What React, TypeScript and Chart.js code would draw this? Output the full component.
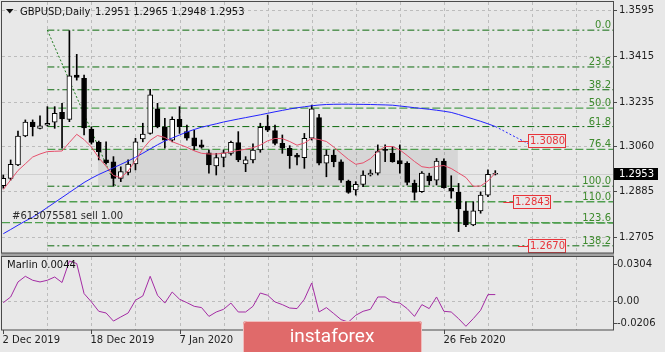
import React, { useEffect, useRef } from "react";
import Chart from "chart.js/auto";

// ---------- data ----------
const symbolTitle = "GBPUSD,Daily";
const opens = [1.2906,1.2935,1.2987,1.3101,1.3155,1.3131,1.3143,1.3155,1.3194,1.3166,
1.3340,1.3327,1.3128,1.3076,1.3007,1.3000,1.2935,1.2958,1.2991,1.3089,
1.3111,1.3207,1.3137,1.3085,1.3166,1.3118,1.3094,1.3066,1.3035,1.2984,
1.3017,1.3033,1.3075,1.2991,1.3007,1.3046,1.3140,1.3122,1.3072,1.3053,
1.3026,1.3016,1.3092,1.3173,1.2994,1.3026,1.3000,1.2924,1.2889,1.2911,
1.2948,1.2955,1.3049,1.3033,1.3004,1.2994,1.2915,1.2883,1.2945,1.2928,
1.3003,1.2896,1.2880,1.2807,1.2752,1.2807,1.2869,1.2951];
const highs = [1.2948,1.3007,1.3120,1.3164,1.3164,1.3180,1.3216,1.3216,1.3229,1.3514,
1.3421,1.3340,1.3137,1.3081,1.3078,1.3020,1.2980,1.3007,1.3092,1.3151,
1.3284,1.3229,1.3170,1.3176,1.3216,1.3144,1.3124,1.3085,1.3046,1.3033,
1.3046,1.3081,1.3118,1.3020,1.3070,1.3151,1.3183,1.3144,1.3105,1.3063,
1.3033,1.3111,1.3222,1.3186,1.3046,1.3046,1.3007,1.2928,1.2922,1.2964,
1.2968,1.3066,1.3066,1.3059,1.3066,1.3000,1.2928,1.2961,1.2955,1.3013,
1.3011,1.2945,1.2915,1.2843,1.2843,1.2882,1.2968,1.2965];
const lows = [1.2896,1.2928,1.2985,1.3098,1.3101,1.3129,1.3140,1.3131,1.3053,1.3157,
1.3320,1.3105,1.3069,1.3007,1.2990,1.2905,1.2922,1.2948,1.2968,1.3078,
1.3108,1.3133,1.3053,1.3078,1.3111,1.3085,1.3046,1.3053,1.2955,1.2948,
1.2980,1.3026,1.3000,1.2961,1.2995,1.3037,1.3118,1.3066,1.3033,1.2974,
1.2987,1.2974,1.3085,1.2987,1.2941,1.2980,1.2919,1.2876,1.2869,1.2902,
1.2944,1.2948,1.3000,1.2998,1.2955,1.2909,1.2850,1.2880,1.2909,1.2909,
1.2896,1.2857,1.2726,1.2745,1.2749,1.2798,1.2863,1.2948];
const closes = [1.2935,1.2990,1.3101,1.3155,1.3137,1.3141,1.3151,1.3190,1.3168,1.3337,
1.3331,1.3133,1.3076,1.3039,1.2996,1.2935,1.2961,1.2991,1.3078,1.3108,
1.3262,1.3137,1.3085,1.3166,1.3137,1.3092,1.3062,1.3057,1.2987,1.3016,
1.3035,1.3076,1.3007,1.3007,1.3046,1.3135,1.3124,1.3072,1.3053,1.3024,
1.3018,1.3092,1.3207,1.2994,1.3026,1.3000,1.2928,1.2880,1.2911,1.2948,
1.2955,1.3040,1.3044,1.3000,1.2991,1.2919,1.2880,1.2955,1.2925,1.3003,
1.2898,1.2885,1.2815,1.2752,1.2807,1.2869,1.2951,1.2953];
const redMA = [1.28911,1.29283,1.29656,1.29918,1.30185,1.30303,1.30397,1.30409,1.30420,1.30754,
1.31075,1.30868,1.30577,1.30158,1.29820,1.29460,1.29373,1.29636,1.30048,1.30499,
1.30840,1.31028,1.30950,1.30785,1.30675,1.30566,1.30428,1.30330,1.30303,1.30303,
1.30334,1.30389,1.30440,1.30491,1.30546,1.30656,1.30820,1.30911,1.30907,1.30793,
1.30648,1.30734,1.30918,1.30871,1.30793,1.30577,1.30330,1.30091,1.29899,1.29954,
1.30122,1.30401,1.30597,1.30597,1.30464,1.30244,1.30009,1.29805,1.29762,1.29813,
1.29852,1.29734,1.29558,1.29381,1.29036,1.29048,1.29244,1.29558];
const blueMA = [1.27177,1.27342,1.27511,1.27675,1.27824,1.28009,1.28205,1.28401,1.28597,1.28793,
1.28989,1.29185,1.29350,1.29499,1.29628,1.29762,1.29895,1.30028,1.30173,1.30334,
1.30499,1.30664,1.30813,1.30930,1.31048,1.31166,1.31264,1.31354,1.31420,1.31487,
1.31558,1.31617,1.31675,1.31730,1.31785,1.31840,1.31899,1.31958,1.32013,1.32068,
1.32115,1.32154,1.32193,1.32224,1.32244,1.32252,1.32256,1.32256,1.32252,1.32248,
1.32244,1.32236,1.32228,1.32217,1.32185,1.32154,1.32118,1.32087,1.32056,1.32020,
1.31981,1.31934,1.31852,1.31762,1.31675,1.31585,1.31487,1.31381];
const blueProjection = [1.31381,1.31232,1.31079,1.30930,1.30781,1.30632];
const marlin = [-0.0013,0.0027,0.0133,0.0173,0.0145,0.0133,0.0145,0.0168,0.0129,0.0281,
0.0263,0.0051,-0.0008,-0.0074,-0.0086,-0.0143,-0.0114,-0.0086,0.0004,0.0034,
0.0173,0.0039,-0.0016,0.0062,0.0011,-0.0013,-0.0039,-0.0048,-0.0110,-0.0079,
-0.0060,-0.0016,-0.0079,-0.0079,-0.0039,0.0055,0.0039,-0.0008,-0.0027,-0.0051,
-0.0055,0.0011,0.0126,-0.0079,-0.0048,-0.0090,-0.0133,-0.0150,-0.0102,-0.0074,
-0.0060,0.0027,0.0027,-0.0008,-0.0016,-0.0055,-0.0110,-0.0027,-0.0055,0.0027,
-0.0074,-0.0079,-0.0126,-0.0180,-0.0126,-0.0067,0.0044,0.0044];

const fibLevels = [0, 23.6, 38.2, 50, 61.8, 76.4, 100, 110, 123.6, 138.2];
const fibDashDot = [true, true, true, false, true, false, true, false, false, true];
const fibHigh = 1.3516;
const fibLow = 1.2904;
const fibStartIdx = 6;
const fibEndIdx = 15.3;

const priceTicks = [1.3595, 1.3415, 1.3235, 1.3060, 1.2885, 1.2705];
const marlinTicks = [0.0304, 0, -0.0206];
const marlinTickLabels = ["0.0304", "0.00", "-0.0206"];
const dateTickIdx = [0, 12, 24, 36, 48, 60];
const dateTickLabels = ["2 Dec 2019", "18 Dec 2019", "7 Jan 2020", "23 Jan 2020", "10 Feb 2020", "26 Feb 2020"];
const gridIdx = [6, 12, 18, 24, 30, 36, 42, 48, 54, 60, 66, 72, 78];

const priceMarks = [1.3080, 1.2843, 1.2670];
const priceMarkBoxIdx = [71.4, 69.4, 71.4];
const priceMarkLineIdx = [70.1, 68.1, 70.1];
const orderPrice = 1.2761;
const orderText = "#613075581 sell 1.00";
const zoneStartIdx = 12.9;
const zoneEndIdx = 61.9;
const zoneTop = 1.3050;
const zoneBottom = 1.2904;

// ---------- layout ----------
const XMIN = -0.177;
const XMAX = 83.03;
const YMIN = 1.23401;
const YMAX = 1.362637;
const Y2MIN = -0.020607;
const Y2MAX = 0.210868;
const MAIN_BOTTOM = 253;
const SUB_TOP = 257;
const BG = "#e8e8e8";
const FONT = "10px 'DejaVu Sans'";

function hl(ctx: CanvasRenderingContext2D, x1: number, x2: number, y: number) {
  ctx.beginPath(); ctx.moveTo(x1, y); ctx.lineTo(x2, y); ctx.stroke();
}
function vl(ctx: CanvasRenderingContext2D, x: number, y1: number, y2: number) {
  ctx.beginPath(); ctx.moveTo(x, y1); ctx.lineTo(x, y2); ctx.stroke();
}
const fibPrice = (lvl: number) => fibHigh - (fibHigh - fibLow) * lvl / 100;

const mt4Plugin = {
  id: "mt4",
  beforeDraw(chart: any) {
    const { ctx, chartArea: a } = chart;
    const sx = chart.scales.x, sy = chart.scales.y, s2 = chart.scales.y2;
    ctx.save();
    ctx.fillStyle = BG;
    ctx.fillRect(0, 0, chart.width, chart.height);
    // grid
    ctx.strokeStyle = "#bcbcbc";
    ctx.lineWidth = 1;
    ctx.setLineDash([3, 3]);
    gridIdx.forEach((i) => {
      const px = Math.round(sx.getPixelForValue(i)) + 0.5;
      vl(ctx, px, a.top, MAIN_BOTTOM);
      vl(ctx, px, SUB_TOP, a.bottom);
    });
    priceTicks.forEach((p) => {
      const py = Math.round(sy.getPixelForValue(p)) + 0.5;
      hl(ctx, a.left, a.right, py);
    });
    const z = Math.round(s2.getPixelForValue(0)) + 0.5;
    hl(ctx, a.left, a.right, z);
    ctx.setLineDash([]);
    // shaded zone
    const zx1 = sx.getPixelForValue(zoneStartIdx), zx2 = sx.getPixelForValue(zoneEndIdx);
    const zy1 = sy.getPixelForValue(zoneTop), zy2 = sy.getPixelForValue(zoneBottom);
    ctx.fillStyle = "rgba(0,0,0,0.075)";
    ctx.fillRect(zx1, zy1, zx2 - zx1, zy2 - zy1);
    // bid line
    const by = Math.round(sy.getPixelForValue(closes[closes.length - 1])) + 0.5;
    ctx.strokeStyle = "#cfcfcf";
    hl(ctx, a.left, a.right, by);
    ctx.restore();
  },
  afterDatasetsDraw(chart: any) {
    const { ctx, chartArea: a } = chart;
    const sx = chart.scales.x, sy = chart.scales.y;
    ctx.save();
    ctx.font = FONT;
    // fib labels
    ctx.fillStyle = "#3d8a2c";
    ctx.textAlign = "right";
    ctx.textBaseline = "alphabetic";
    fibLevels.forEach((lvl) => {
      const py = sy.getPixelForValue(fibPrice(lvl));
      ctx.fillText(lvl.toFixed(1), a.right - 2, py - 2);
    });
    // order text
    ctx.fillStyle = "#2a2a2a";
    ctx.textAlign = "left";
    ctx.textBaseline = "middle";
    ctx.fillText(orderText, 12, sy.getPixelForValue(orderPrice) - 6);
    // price marks
    priceMarks.forEach((p, i) => {
      const py = Math.round(sy.getPixelForValue(p));
      const bx = Math.round(sx.getPixelForValue(priceMarkBoxIdx[i]));
      const lx = sx.getPixelForValue(priceMarkLineIdx[i]);
      ctx.strokeStyle = "#e8343a";
      ctx.lineWidth = 1;
      hl(ctx, lx, bx, py + 0.5);
      ctx.fillStyle = BG;
      ctx.fillRect(bx, py - 6, 37, 13);
      ctx.strokeRect(bx + 0.5, py - 6.5, 37, 13);
      ctx.fillStyle = "#e8343a";
      ctx.textAlign = "left";
      ctx.fillText(p.toFixed(4), bx + 2, py + 0.5);
    });
    ctx.restore();
  },
  afterDraw(chart: any) {
    const { ctx, chartArea: a } = chart;
    const sy = chart.scales.y, s2 = chart.scales.y2, sx = chart.scales.x;
    ctx.save();
    // borders and separator
    ctx.fillStyle = "#a3a3a3";
    ctx.fillRect(a.left - 1, MAIN_BOTTOM, a.right - a.left + 2, SUB_TOP - MAIN_BOTTOM);
    ctx.strokeStyle = "#4a4a4a";
    ctx.lineWidth = 1;
    ctx.strokeRect(1.5, 1.5, a.right - 1, MAIN_BOTTOM - 1.5);
    ctx.strokeRect(1.5, SUB_TOP - 0.5, a.right - 1, a.bottom - SUB_TOP + 0.5);
    // price axis
    ctx.font = FONT;
    ctx.textAlign = "left";
    ctx.textBaseline = "middle";
    ctx.fillStyle = "#1e1e1e";
    priceTicks.forEach((p) => {
      const py = Math.round(sy.getPixelForValue(p)) + 0.5;
      hl(ctx, a.right, a.right + 4, py);
      ctx.fillText(p.toFixed(4), a.right + 6, py);
    });
    // current price box
    const last = closes[closes.length - 1];
    const cy = Math.round(sy.getPixelForValue(last));
    ctx.fillStyle = "#000000";
    ctx.fillRect(a.right + 1, cy - 6, 44, 12);
    ctx.fillStyle = "#ffffff";
    ctx.fillText(last.toFixed(4), a.right + 6, cy + 0.5);
    // marlin axis
    ctx.fillStyle = "#1e1e1e";
    marlinTicks.forEach((v, i) => {
      let py = s2.getPixelForValue(v);
      py = Math.round(Math.min(Math.max(py, SUB_TOP + 7), a.bottom - 7)) + 0.5;
      hl(ctx, a.right, a.right + 4, py);
      ctx.fillText(marlinTickLabels[i], a.right + 4, py);
    });
    // date axis
    dateTickIdx.forEach((idx, i) => {
      const px = Math.round(sx.getPixelForValue(idx)) + 0.5;
      vl(ctx, px, a.bottom, a.bottom + 4);
      ctx.fillText(dateTickLabels[i], px - 1, a.bottom + 10);
    });
    // header
    ctx.fillStyle = "#111111";
    ctx.beginPath();
    ctx.moveTo(6, 9); ctx.lineTo(13.5, 9); ctx.lineTo(9.75, 13.5); ctx.closePath(); ctx.fill();
    const n = closes.length - 1;
    ctx.fillText(symbolTitle, 20, 12);
    ctx.fillText([opens[n], highs[n], lows[n], closes[n]].map((v) => v.toFixed(4)).join(" "), 95, 12);
    ctx.fillText("Marlin " + marlin[marlin.length - 1].toFixed(4), 7, SUB_TOP + 8);
    // watermark
    ctx.fillStyle = "#e06a6a";
    ctx.beginPath();
    ctx.roundRect(243, 321, 179, 40, 3);
    ctx.fill();
    ctx.strokeStyle = "rgba(255,255,255,0.55)";
    ctx.beginPath();
    ctx.roundRect(243.5, 321.5, 178, 40, 3);
    ctx.stroke();
    ctx.fillStyle = "#ffffff";
    ctx.font = "19px Roboto";
    ctx.textAlign = "center";
    ctx.fillText("instaforex", 332, 337);
    ctx.restore();
  },
};

export default function App() {
  const ref = useRef<HTMLCanvasElement>(null);
  useEffect(() => {
    document.body.style.margin = "0";
    const canvas = ref.current!;
    const idx = opens.map((_, i) => i);
    const wickData = idx.map((i) => ({ x: i, y: [lows[i], highs[i]] }));
    const bodyData = idx.map((i) => ({ x: i, y: [Math.min(opens[i], closes[i]), Math.max(opens[i], closes[i])] }));
    const bodyColors = idx.map((i) => (closes[i] >= opens[i] ? "#ffffff" : "#000000"));
    const fibSets = fibLevels.map((lvl, k) => ({
      type: "line",
      data: [{ x: fibStartIdx, y: fibPrice(lvl) }, { x: XMAX, y: fibPrice(lvl) }],
      borderColor: fibDashDot[k] ? "#0d6a0d" : "#4f9e4f",
      borderWidth: fibDashDot[k] ? 1 : 1.4,
      borderDash: fibDashDot[k] ? [7, 3, 2, 3] : [8, 3],
      pointRadius: 0,
      yAxisID: "y",
      order: 5,
    }));
    const datasets: any[] = [
      ...fibSets,
      {
        type: "line",
        data: [{ x: XMIN, y: orderPrice }, { x: XMAX, y: orderPrice }],
        borderColor: "#4f9e4f", borderWidth: 1.2, borderDash: [8, 3], pointRadius: 0, yAxisID: "y", order: 5,
      },
      {
        type: "line",
        data: [{ x: fibStartIdx, y: fibHigh }, { x: fibEndIdx, y: fibLow }],
        borderColor: "#1e7a1e", borderWidth: 1, borderDash: [2, 2], pointRadius: 0, yAxisID: "y", order: 5,
      },
      {
        type: "bar", data: wickData, backgroundColor: "#000000", borderWidth: 0,
        barThickness: 1, grouped: false, yAxisID: "y", order: 3,
      },
      {
        type: "bar", data: bodyData, backgroundColor: bodyColors, borderColor: "#000000", borderWidth: 1,
        borderSkipped: false, barThickness: 5, grouped: false, minBarLength: 1, yAxisID: "y", order: 2,
      },
      {
        type: "line", data: redMA.map((v, i) => ({ x: i, y: v })), borderColor: "#e6506c", borderWidth: 1,
        pointRadius: 0, tension: 0, yAxisID: "y", order: 1,
      },
      {
        type: "line", data: blueMA.map((v, i) => ({ x: i, y: v })), borderColor: "#2323ff", borderWidth: 1,
        pointRadius: 0, tension: 0, yAxisID: "y", order: 1,
      },
      {
        type: "line", data: blueProjection.map((v, i) => ({ x: blueMA.length - 1 + i, y: v })), borderColor: "#2323ff",
        borderWidth: 1, borderDash: [2, 2], pointRadius: 0, tension: 0, yAxisID: "y", order: 1,
      },
      {
        type: "line", data: marlin.map((v, i) => ({ x: i, y: v })), borderColor: "#a42ca4", borderWidth: 1,
        pointRadius: 0, tension: 0, yAxisID: "y2", order: 1,
      },
    ];
    const chart = new Chart(canvas, {
      type: "bar",
      data: { datasets },
      options: {
        responsive: false,
        animation: false,
        devicePixelRatio: 1,
        events: [],
        layout: { padding: { left: 2, top: 2, right: 52, bottom: 22 } },
        plugins: { legend: { display: false }, tooltip: { enabled: false } },
        scales: {
          x: { type: "linear", min: XMIN, max: XMAX, display: false, offset: false },
          y: { type: "linear", min: YMIN, max: YMAX, display: false },
          y2: { type: "linear", min: Y2MIN, max: Y2MAX, display: false },
        },
      },
      plugins: [mt4Plugin],
    } as any);
    return () => chart.destroy();
  }, []);
  return <canvas ref={ref} width={665} height={352} style={{ display: "block", width: 665, height: 352 }} />;
}
